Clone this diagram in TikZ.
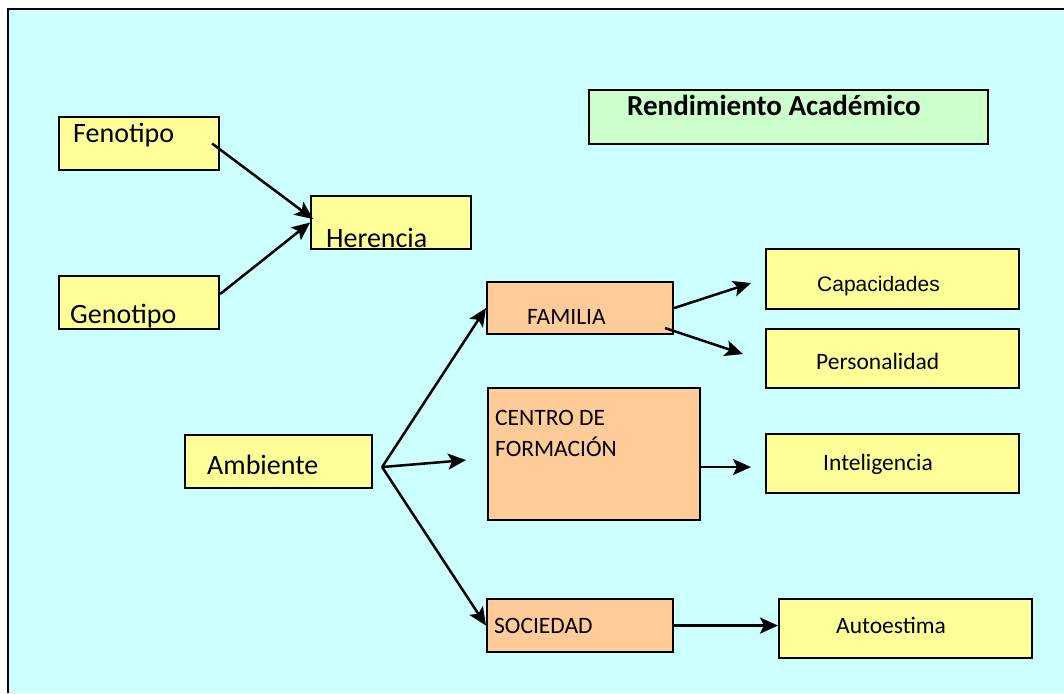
\documentclass[tikz,border=0pt]{standalone}
\usepackage{fontspec}
\setmainfont{Carlito}
\newfontfamily\arialfont{Liberation Sans}
\usepackage{xcolor}
\definecolor{bgcyan}{HTML}{CCFFFF}
\definecolor{boxyellow}{HTML}{FFFF99}
\definecolor{boxorange}{HTML}{FFCC99}
\definecolor{boxgreen}{HTML}{CCFFCC}
\usetikzlibrary{arrows.meta, positioning}

\begin{document}
\begin{tikzpicture}[x=1pt, y=-1pt,
        box/.style={draw, line width=2.1pt, anchor=north west, inner sep=0pt},
        ybox/.style={box, fill=boxyellow},
        obox/.style={box, fill=boxorange},
        txt/.style={anchor=base west, inner sep=0pt},
        big/.style={txt, font=\fontsize{28}{30}\selectfont},
        small/.style={txt, font=\fontsize{23.5}{31}\selectfont},
        arr/.style={-{Stealth[length=18pt, width=16pt, inset=4pt]}, line width=2.5pt}]
        \useasboundingbox (0,0) rectangle (1064,693);
        \fill[white] (0,0) rectangle (1064,693);
        \fill[bgcyan] (7,8) rectangle (1064,693);
        \draw[line width=2.5pt] (8,693) -- (8,9) -- (1064,9);

        \node[ybox, minimum width=160, minimum height=53] at (58,116)  (feno) {};
        \node[ybox, minimum width=160, minimum height=53] at (310,195) (heren) {};
        \node[ybox, minimum width=160, minimum height=53] at (58,275)  (geno) {};
        \node[ybox, minimum width=187, minimum height=53] at (184,434) (amb) {};
        \node[obox, minimum width=186, minimum height=52] at (486,281) (fam) {};
        \node[obox, minimum width=212, minimum height=132] at (487,387) (centro) {};
        \node[obox, minimum width=186, minimum height=53] at (486,598) (soc) {};
        \node[box, fill=boxgreen, minimum width=399, minimum height=54] at (588,89) (rend) {};
        \node[ybox, minimum width=253, minimum height=60] at (765,248) (capac) {};
        \node[ybox, minimum width=253, minimum height=59] at (765,328) (perso) {};
        \node[ybox, minimum width=253, minimum height=59] at (765,433) (intel) {};
        \node[ybox, minimum width=253, minimum height=59] at (778,598) (auto) {};

        \node[big] at (73,142)  (fenotxt) {Fenotipo};
        \node[big] at (326,247) (herentxt) {Herencia};
        \node[big] at (70,323)  (genotxt) {Genotipo};
        \node[big] at (207,474) (ambtxt) {Ambiente};
        \node[small] at (527,324) (famtxt) {FAMILIA};
        \node[small, align=left] at (495,456) (centrotxt) {CENTRO DE\\FORMACIÓN};
        \node[small] at (494,633) (soctxt) {SOCIEDAD};
        \node[small] at (836,633) (autotxt) {Autoestima};
        \node[txt, font=\fontsize{29}{31}\selectfont\bfseries] at (627,115) (rendtxt) {Rendimiento Académico};
        \node[txt, font=\arialfont\fontsize{21}{24}\selectfont] at (817,291) (capactxt) {Capacidades};
        \node[small] at (816,369) (persotxt) {Personalidad};
        \node[small] at (823,470) (inteltxt) {Inteligencia};

        \draw[arr] ([xshift=-8pt]feno.east) -- ([xshift=3pt, yshift=3.5pt]heren.west);
        \draw[arr] ([yshift=8.5pt]geno.east) -- (heren.west);
        \coordinate (fork) at ([xshift=9pt, yshift=-5.5pt]amb.east);
        \draw[arr] (fork) -- (fam.west);
        \draw[arr] (fork) -- ([xshift=-21pt, yshift=-6pt]centro.west);
        \draw[arr] (fork) -- (soc.west);
        \draw[arr] (fam.east) -- ([xshift=-14pt, yshift=-4pt]capac.west);
        \draw[arr] ([xshift=-9pt, yshift=-20pt]fam.east) -- ([xshift=-22pt, yshift=4.5pt]perso.west);
        \draw[arr] ([yshift=-13pt]centro.east) -- ([xshift=-14pt, yshift=-3.5pt]intel.west);
        \draw[arr] (soc.east) -- (soc.east -| auto.west);
    \end{tikzpicture}
\end{document}
